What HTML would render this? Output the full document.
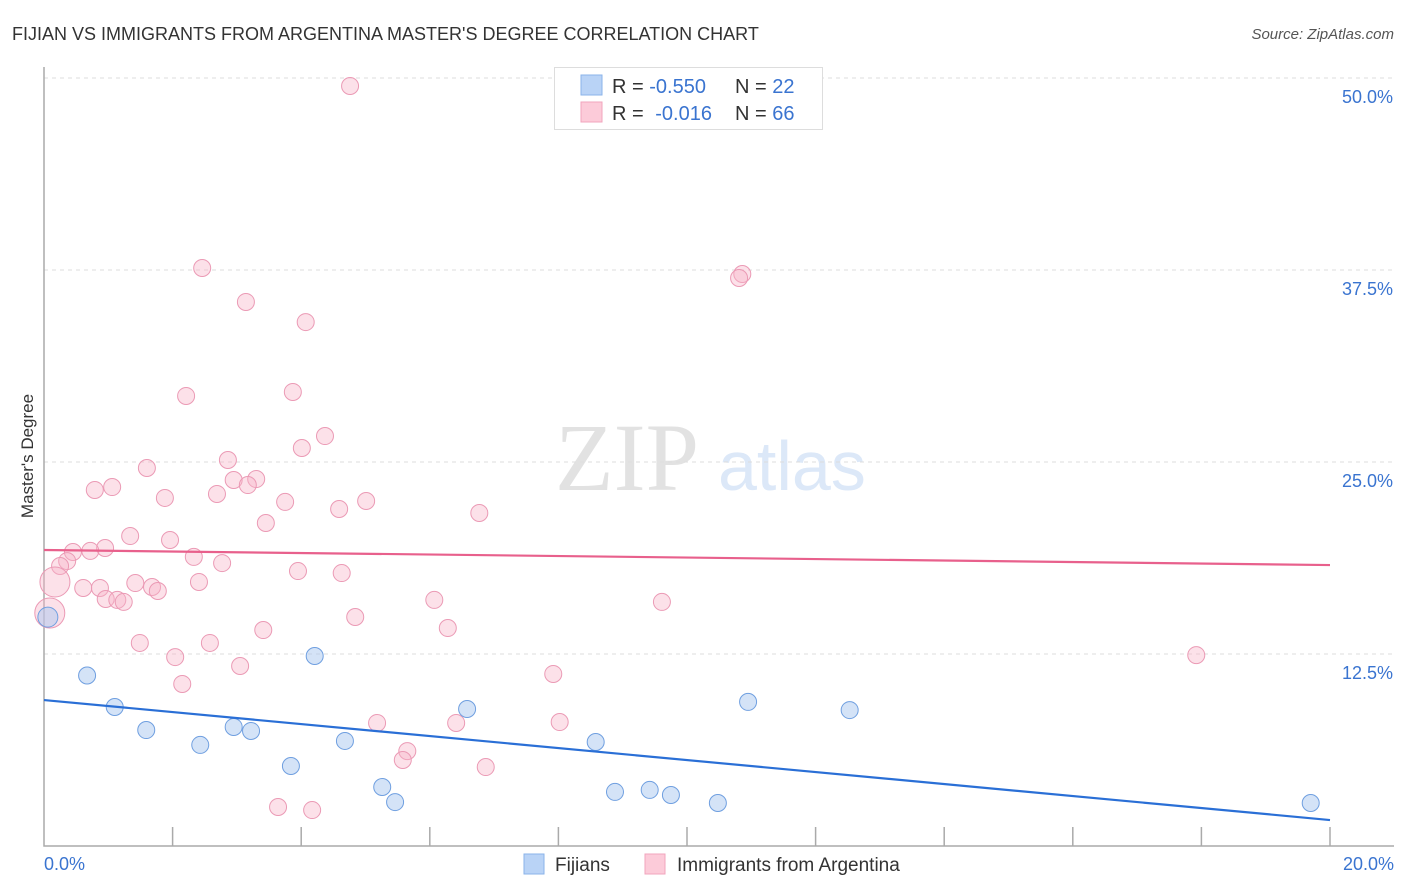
<!DOCTYPE html>
<html><head><meta charset="utf-8"><style>
body{margin:0;background:#fff;font-family:"Liberation Sans",sans-serif;}
svg{display:block}
</style></head><body>
<svg id="chart" width="1406" height="892">
<text x="12" y="40" font-size="18" fill="#333">FIJIAN VS IMMIGRANTS FROM ARGENTINA MASTER'S DEGREE CORRELATION CHART</text>
<text x="1394" y="39" font-size="15" fill="#555" text-anchor="end" font-style="italic">Source: ZipAtlas.com</text>
<text x="33" y="456" font-size="17" fill="#333" text-anchor="middle" transform="rotate(-90 33 456)">Master's Degree</text>
<g>
<text x="555" y="490" font-size="96" fill="#e2e2e2" font-family="Liberation Serif,serif">ZIP</text>
<text x="718" y="490" font-size="70" fill="#dce8f8">atlas</text>
</g>
<g id="grid"></g>
<g id="axes"></g>
<g id="marks"></g>
<g>
<rect x="554.5" y="67.5" width="268" height="62" fill="#fff" stroke="#ddd"/>
<rect x="581" y="75" width="21" height="20" fill="#b9d3f6" stroke="#8ab3ea"/>
<rect x="581" y="102" width="21" height="20" fill="#fccbd9" stroke="#f2a5bd"/>
<text x="612" y="93" font-size="20" fill="#333">R = <tspan fill="#3a74d0">-0.550</tspan><tspan x="735">N = </tspan><tspan fill="#3a74d0">22</tspan></text>
<text x="612" y="120" font-size="20" fill="#333">R = <tspan fill="#3a74d0" dx="6">-0.016</tspan><tspan x="735">N = </tspan><tspan fill="#3a74d0">66</tspan></text>
</g>
<g>
<rect x="524" y="854" width="20" height="20" fill="#b9d3f6" stroke="#8ab3ea"/>
<text x="555" y="871" font-size="19" fill="#333">Fijians</text>
<rect x="645" y="854" width="20" height="20" fill="#fccbd9" stroke="#f2a5bd"/>
<text x="677" y="871" font-size="19" fill="#333">Immigrants from Argentina</text>
</g>
</svg>
<script>
const yTicks=[12.5,25,37.5,50];
const yTickLabels=["12.5%","25.0%","37.5%","50.0%"];
const xTickLabels=["0.0%","20.0%"];
const fijiX=[0.06,0.67,1.10,1.59,2.43,2.95,3.22,3.84,4.21,4.68,5.26,5.46,6.58,8.58,8.88,9.42,9.75,10.48,10.95,12.53,19.70];
const fijiY=[14.9,11.1,9.05,7.55,6.58,7.75,7.49,5.21,12.37,6.84,3.84,2.86,8.92,6.77,3.52,3.65,3.32,2.80,9.38,8.85,2.80];
const argX=[4.76,2.46,10.86,10.81,3.14,4.07,3.87,2.21,4.37,4.01,1.60,2.86,0.79,1.06,1.88,2.69,2.95,3.30,3.17,3.75,4.59,5.01,6.77,3.45,1.34,1.96,0.95,0.72,0.45,0.36,0.25,0.17,2.33,2.77,0.61,0.87,1.42,1.68,1.77,0.96,1.14,1.24,2.41,3.95,4.63,6.07,9.61,0.09,4.84,6.28,3.41,1.49,2.58,2.04,3.05,2.15,7.92,17.92,5.18,6.41,8.02,5.65,5.58,6.87,3.64,4.17];
const argY=[49.48,37.63,37.24,36.98,35.42,34.11,29.56,29.30,26.69,25.91,24.61,25.13,23.18,23.37,22.66,22.92,23.83,23.89,23.50,22.40,21.94,22.46,21.68,21.03,20.18,19.92,19.40,19.21,19.14,18.55,18.23,17.19,18.82,18.42,16.80,16.80,17.12,16.86,16.60,16.08,16.02,15.89,17.19,17.90,17.77,16.02,15.89,15.17,14.91,14.19,14.06,13.22,13.22,12.30,11.72,10.55,11.20,12.43,8.01,8.01,8.07,6.18,5.60,5.14,2.54,2.34];
const fijiTrend=[9.5,1.69];
const argTrend=[19.27,18.29];
const NS="http://www.w3.org/2000/svg";
const X=v=>44+v/20*1286, Y=v=>846-v/12.5*192;
function mk(t,a,p){const e=document.createElementNS(NS,t);for(const k in a)e.setAttribute(k,a[k]);p.appendChild(e);return e;}
const grid=document.getElementById('grid'),axes=document.getElementById('axes'),marks=document.getElementById('marks');
yTicks.forEach((t,i)=>{
 const l=mk('line',{x1:44,x2:1394,y1:Y(t),y2:Y(t),stroke:'#ddd','stroke-dasharray':'4,4'},grid);
 
 
 const tx=mk('text',{x:1393,y:Y(t)+25,'font-size':18,fill:'#3a74d0','text-anchor':'end'},axes);
 tx.textContent=yTickLabels[i];
 
 
});
const ax=mk('path',{d:'M44 67V846H1394',fill:'none',stroke:'#aaa','stroke-width':1.5},axes);


for(let i=1;i<=10;i++){const t=mk('line',{x1:X(i*2),x2:X(i*2),y1:827,y2:846,stroke:'#aaa','stroke-width':1.5},axes);
 
 }
[[0,44,'start'],[1,1394,'end']].forEach(([i,x,a])=>{const t=mk('text',{x:x,y:870,'font-size':18,fill:'#3a74d0','text-anchor':a},axes);t.textContent=xTickLabels[i];
 
 });
argX.forEach((v,i)=>{const big=(i==31||i==47);const c=mk('circle',{cx:X(v),cy:Y(argY[i]),r:big?15:8.5,fill:'rgba(248,180,200,0.4)',stroke:'#eb9ab5','stroke-width':1},marks);
 
 });
fijiX.forEach((v,i)=>{const c=mk('circle',{cx:X(v),cy:Y(fijiY[i]),r:i==0?10:8.5,fill:'rgba(170,200,240,0.5)',stroke:'#6f9fe0','stroke-width':1},marks);
 
 });
const tl1=mk('line',{x1:X(0),x2:X(20),y1:Y(argTrend[0]),y2:Y(argTrend[1]),stroke:'#e8608c','stroke-width':2.2},marks);


const tl2=mk('line',{x1:X(0),x2:X(20),y1:Y(fijiTrend[0]),y2:Y(fijiTrend[1]),stroke:'#2a6fd6','stroke-width':2.2},marks);


</script>
</body></html>
